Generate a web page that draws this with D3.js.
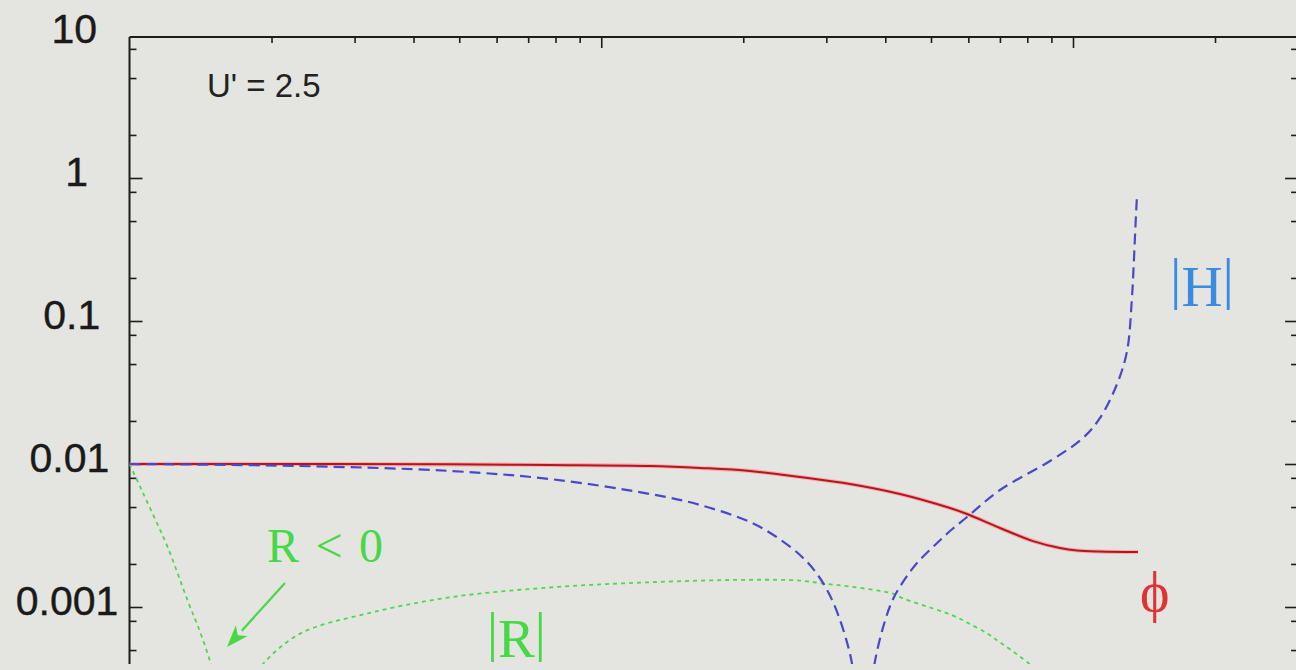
<!DOCTYPE html>
<html>
<head>
<meta charset="utf-8">
<script src="https://cdn.jsdelivr.net/npm/d3@7"></script>
<style>
  html, body { margin: 0; padding: 0; background: #e4e5e0; }
  svg { display: block; }
</style>
</head>
<body>
<svg id="chart" width="1296" height="670"></svg>
<script>
// ---------------- data ----------------
// phi (solid red)
const phiX = [0.1, 0.23, 0.478, 0.779, 1.269, 1.62, 2.067, 2.638, 3.368, 4.298, 5.486, 5.962, 7.003, 8.228, 9.386, 10.2, 11.41, 13.73];
const phiY = [0.01, 0.01, 0.00995, 0.00984, 0.00968, 0.00938, 0.00894, 0.00811, 0.00725, 0.00617, 0.00492, 0.00447, 0.00357, 0.00289, 0.002585, 0.002484, 0.002443, 0.002424];
// |H| (blue dashed), two branches around its zero
const hLeftX = [0.1, 0.2298, 0.4779, 0.7787, 1.269, 1.62, 2.067, 2.335, 2.638, 2.868, 3.099, 3.368, 3.503];
const hLeftY = [0.01, 0.00968, 0.00894, 0.00785, 0.00617, 0.00517, 0.00393, 0.003136, 0.00231, 0.0017, 0.001084, 0.000469, 0.0002];
const hRightX = [3.713, 3.805, 3.976, 4.155, 4.405, 4.67, 5.05, 5.486, 5.962, 7.003, 8.941, 10.5, 11.41, 12.4, 13.02, 13.32, 13.44, 13.54, 13.67];
const hRightY = [0.000227, 0.000419, 0.00076, 0.001137, 0.00157, 0.00203, 0.00263, 0.0034, 0.00426, 0.00658, 0.0105, 0.0152, 0.021, 0.0363, 0.0617, 0.138, 0.236, 0.406, 0.777];
// |R| (green dotted): R < 0 branch and R > 0 branch
const rNegX = [0.1, 0.1056, 0.1125, 0.1206, 0.1328, 0.1415, 0.1486, 0.1538];
const rNegY = [0.01, 0.0068, 0.00434, 0.0026, 0.00111, 0.000654, 0.000404, 0.000262];
const rPosX = [0.179, 0.1924, 0.2305, 0.3195, 0.479, 0.78, 1.27, 2.07, 2.64, 2.95, 3.37, 4.15, 4.36, 5.05, 5.56, 5.96, 6.57, 7.0, 7.71, 8.5];
const rPosY = [0.000284, 0.000404, 0.000654, 0.000901, 0.00117, 0.00137, 0.00149, 0.00155, 0.00153, 0.00146, 0.00139, 0.00124, 0.00115, 0.000976, 0.000873, 0.00078, 0.000654, 0.000566, 0.000452, 0.00035];

// ticks
const yMajorTicks = [10, 1, 0.1, 0.01, 0.001];
const yTickLabels = ["10", "1", "0.1", "0.01", "0.001"];
const yMinorTicks = [8, 5, 2, 0.8, 0.5, 0.2, 0.08, 0.05, 0.02, 0.008, 0.005, 0.002, 0.0008, 0.0005];
const xMajorTicks = [1, 10];
const xMinorTicks = [0.2, 0.3, 0.4, 0.5, 0.6, 0.7, 0.8, 0.9, 2, 3, 4, 5, 6, 7, 8, 9, 20];

// ---------------- layout ----------------
const svg = d3.select("#chart");
const W = 1296, H = 670;
const pL = 129.5, pT = 37, pB = 664;

const x = d3.scaleLog().domain([0.1, 10]).range([pL, 1073]);
const y = d3.scaleLog().domain([1, 0.001]).range([178, 607]);
const pR = x(30);
const yTopV = y.invert(pT), yBotV = y.invert(pB);
const inRange = v => v <= yTopV && v >= yBotV;

svg.append("rect").attr("width", W).attr("height", H).attr("fill", "#e4e5e0");

const defs = svg.append("defs");
defs.append("clipPath").attr("id", "plot")
  .append("rect").attr("x", pL).attr("y", pT).attr("width", pR - pL).attr("height", pB - pT);

const axisColor = "#1c1c1c";

function styleAxis(g) {
  g.select(".domain").remove();
  g.selectAll(".tick line").attr("stroke", axisColor).attr("stroke-width", 1.6);
}
// left axis
const gLeftMinor = svg.append("g").attr("transform", `translate(${pL},0)`)
  .call(d3.axisLeft(y).tickValues(yMinorTicks.filter(inRange)).tickSizeInner(-7).tickSizeOuter(0).tickFormat(""));
styleAxis(gLeftMinor);
const gLeftMajor = svg.append("g").attr("transform", `translate(${pL},0)`)
  .call(d3.axisLeft(y).tickValues(yMajorTicks).tickSizeInner(-13).tickSizeOuter(0)
    .tickFormat((d, i) => yTickLabels[i]));
styleAxis(gLeftMajor);
gLeftMajor.selectAll(".tick line").attr("display", d => inRange(d) ? null : "none");
gLeftMajor.selectAll(".tick text")
  .attr("font-family", "'Liberation Sans', Arial, Helvetica, sans-serif")
  .attr("font-size", 41)
  .attr("fill", "#1a1a1a")
  .attr("stroke", "#1a1a1a").attr("stroke-width", 0.4)
  .attr("text-anchor", "middle")
  .attr("dy", 0)
  .attr("y", 7)
  .attr("x", (d, i) => (79 - 2.4 * yTickLabels[i].length) - pL);

// right axis
const gRightMinor = svg.append("g").attr("transform", `translate(${pR},0)`)
  .call(d3.axisRight(y).tickValues(yMinorTicks.filter(inRange)).tickSizeInner(-7).tickSizeOuter(0).tickFormat(""));
styleAxis(gRightMinor);
const gRightMajor = svg.append("g").attr("transform", `translate(${pR},0)`)
  .call(d3.axisRight(y).tickValues(yMajorTicks.filter(inRange)).tickSizeInner(-13).tickSizeOuter(0).tickFormat(""));
styleAxis(gRightMajor);

// top axis
const gTopMinor = svg.append("g").attr("transform", `translate(0,${pT})`)
  .call(d3.axisTop(x).tickValues(xMinorTicks).tickSizeInner(-6).tickSizeOuter(0).tickFormat(""));
styleAxis(gTopMinor);
const gTopMajor = svg.append("g").attr("transform", `translate(0,${pT})`)
  .call(d3.axisTop(x).tickValues(xMajorTicks).tickSizeInner(-11).tickSizeOuter(0).tickFormat(""));
styleAxis(gTopMajor);

// frame lines
svg.append("line").attr("x1", pL).attr("x2", pR).attr("y1", pT).attr("y2", pT)
  .attr("stroke", axisColor).attr("stroke-width", 2);
svg.append("line").attr("x1", pL).attr("x2", pL).attr("y1", pT).attr("y2", pB)
  .attr("stroke", axisColor).attr("stroke-width", 2);
svg.append("line").attr("x1", pR).attr("x2", pR).attr("y1", pT).attr("y2", pB)
  .attr("stroke", axisColor).attr("stroke-width", 2);

// ---------------- curves ----------------
const zip = (a, b) => a.map((v, i) => [v, b[i]]);
const line = d3.line().x(d => x(d[0])).y(d => y(d[1])).curve(d3.curveCatmullRom.alpha(0.5));
const plot = svg.append("g").attr("clip-path", "url(#plot)");

// green |R|
[zip(rNegX, rNegY), zip(rPosX, rPosY)].forEach(seg => {
  plot.append("path").attr("d", line(seg)).attr("fill", "none")
    .attr("stroke", "#4fd64f").attr("stroke-width", 1.8).attr("stroke-dasharray", "4,4");
});

// red phi (halo + core)
plot.append("path").attr("d", line(zip(phiX, phiY))).attr("fill", "none")
  .attr("stroke", "#f59a9a").attr("stroke-width", 4.2).attr("opacity", 0.7);
plot.append("path").attr("d", line(zip(phiX, phiY))).attr("fill", "none")
  .attr("stroke", "#b8141e").attr("stroke-width", 2);

// blue |H|
[zip(hLeftX, hLeftY), zip(hRightX, hRightY)].forEach(seg => {
  plot.append("path").attr("d", line(seg)).attr("fill", "none")
    .attr("stroke", "#4848c8").attr("stroke-width", 2.2).attr("stroke-dasharray", "11,6");
});

// ---------------- annotations ----------------
svg.append("text").attr("x", 207).attr("y", 97)
  .attr("font-family", "'Liberation Sans', Arial, Helvetica, sans-serif")
  .attr("font-size", 33).attr("fill", "#222").text("U' = 2.5");

const serif = "'Liberation Serif', 'Times New Roman', Times, serif";
const green = "#46d846";

svg.append("text").attr("x", 267).attr("y", 562)
  .attr("font-family", serif).attr("font-size", 48).attr("fill", green)
  .attr("textLength", 116).attr("lengthAdjust", "spacing")
  .text("R < 0");

// arrow
const ax1 = 285, ay1 = 583, ax2 = 227, ay2 = 647;
const ang = Math.atan2(ay2 - ay1, ax2 - ax1);
const headLen = 22, headW = 8;
const bx = ax2 - headLen * Math.cos(ang), by = ay2 - headLen * Math.sin(ang);
svg.append("line").attr("x1", ax1).attr("y1", ay1).attr("x2", bx).attr("y2", by)
  .attr("stroke", green).attr("stroke-width", 2.2);
svg.append("polygon")
  .attr("points", [
    [ax2, ay2],
    [bx + headW * Math.sin(ang), by - headW * Math.cos(ang)],
    [bx + 6 * Math.cos(ang), by + 6 * Math.sin(ang)],
    [bx - headW * Math.sin(ang), by + headW * Math.cos(ang)]
  ].map(p => p.join(",")).join(" "))
  .attr("fill", green);

// |R|
const tR = svg.append("text").attr("x", 487).attr("y", 657)
  .attr("font-family", serif).attr("font-size", 55).attr("fill", green);
tR.append("tspan").attr("dy", -7).text("|");
tR.append("tspan").attr("dy", 7).text("R");
tR.append("tspan").attr("dy", -7).text("|");

// |H|
const tH = svg.append("text").attr("x", 1170).attr("y", 306)
  .attr("font-family", serif).attr("font-size", 57).attr("fill", "#3a8ce0");
tH.append("tspan").attr("dy", -8).text("|");
tH.append("tspan").attr("dy", 8).text("H");
tH.append("tspan").attr("dy", -8).text("|");

// phi
svg.append("text").attr("x", 1140).attr("y", 611)
  .attr("font-family", serif).attr("font-size", 56).attr("fill", "#e03232")
  .text("ϕ");
</script>
</body>
</html>
